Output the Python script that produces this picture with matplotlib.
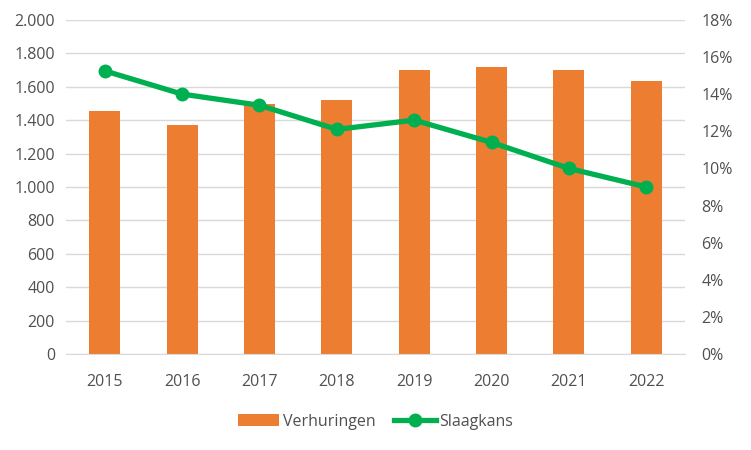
import numpy as np
import matplotlib
matplotlib.use("Agg")
import matplotlib.pyplot as plt
from matplotlib.ticker import FuncFormatter, MultipleLocator

years = ["2015", "2016", "2017", "2018", "2019", "2020", "2021", "2022"]
verhuringen = [1455, 1370, 1497, 1520, 1698, 1720, 1697, 1632]
slaagkans = [15.25, 14.0, 13.4, 12.1, 12.6, 11.4, 10.0, 9.0]

plt.rcParams['font.family'] = ['Open Sans', 'DejaVu Sans']
grey = '#505050'

fig = plt.figure(figsize=(7.51, 4.5), dpi=100)
ax = fig.add_axes([0.088, 0.213, 0.824, 0.743])
ax2 = ax.twinx()

x = np.arange(len(years))
ax.bar(x, verhuringen, width=0.4, color='#ED7D31', label='Verhuringen', zorder=2)
ax2.plot(x, slaagkans, color='#00B050', lw=3.8, marker='o', ms=9,
         label='Slaagkans', zorder=3)

# --- left axis ---
ax.set_ylim(0, 2000)
ax.yaxis.set_major_locator(MultipleLocator(200))
ax.yaxis.set_major_formatter(FuncFormatter(lambda v, p: f"{int(v):,}".replace(",", ".")))
ax.set_xlim(-0.5, len(years) - 0.5)
ax.set_xticks(x, years)
ax.grid(axis='y', color='#D9D9D9', lw=1, zorder=0)
ax.set_axisbelow(True)

# --- right axis ---
ax2.set_ylim(0, 18)
ax2.yaxis.set_major_locator(MultipleLocator(2))
ax2.yaxis.set_major_formatter(FuncFormatter(lambda v, p: f"{int(v)}%"))

for a in (ax, ax2):
    for s in a.spines.values():
        s.set_visible(False)
    a.tick_params(length=0, colors=grey, labelsize=11.5)
ax.spines['bottom'].set_visible(True)
ax.spines['bottom'].set_color('#D9D9D9')
ax.tick_params(axis='x', pad=14)
ax.tick_params(axis='y', pad=8)
ax2.tick_params(axis='y', pad=12)

ax.set_zorder(ax2.get_zorder() - 1)
ax.patch.set_visible(False)

h1, l1 = ax.get_legend_handles_labels()
h2, l2 = ax2.get_legend_handles_labels()
fig.legend(h1 + h2, l1 + l2, loc='center', bbox_to_anchor=(0.5, 0.063), ncol=2,
           frameon=False, fontsize=11.5, labelcolor=grey, handlelength=2.6,
           handletextpad=0.2, columnspacing=1.2)

fig.savefig("out.png", dpi=100)
